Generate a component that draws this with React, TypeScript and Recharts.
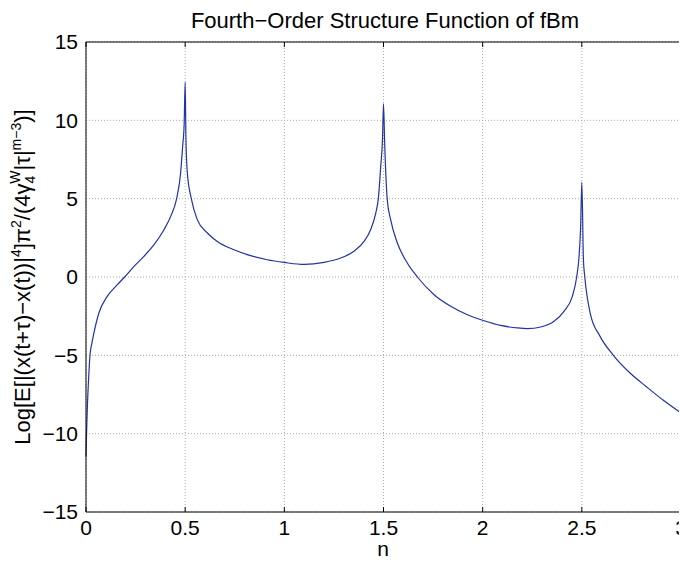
import React from 'react'
import { CartesianGrid, Line, LineChart, XAxis, YAxis } from 'recharts'

// values
const nValues = [
  0, 0.003, 0.007, 0.012, 0.02, 0.03, 0.04, 0.065, 0.107, 0.158, 0.195, 0.242, 0.292, 0.343, 0.393,
  0.427, 0.457, 0.477, 0.487, 0.495, 0.5, 0.504, 0.511, 0.531, 0.561, 0.612, 0.662, 0.746, 0.83,
  0.914, 1.0, 1.1, 1.2, 1.284, 1.351, 1.402, 1.435, 1.461, 1.474, 1.486, 1.495, 1.5, 1.506, 1.519,
  1.536, 1.57, 1.62, 1.671, 1.755, 1.839, 1.923, 2.007, 2.091, 2.175, 2.226, 2.293, 2.36, 2.41,
  2.452, 2.474, 2.486, 2.494, 2.5, 2.508, 2.515, 2.542, 2.592, 2.659, 2.743, 2.827, 2.911, 3.0,
]
const logValues = [
  -11.45, -9.9, -8.26, -6.8, -5.0, -4.2, -3.57, -2.3, -1.24, -0.49, 0, 0.68, 1.32, 2.06, 3.02,
  3.87, 5.0, 6.64, 8.3, 9.8, 12.42, 8.76, 6.64, 5.0, 3.66, 2.81, 2.27, 1.74, 1.36,
  1.1, 0.93, 0.8, 0.93, 1.21, 1.64, 2.27, 3.02, 4.08, 5.0, 7.06, 8.8, 11.06, 8.5, 4.93,
  3.66, 2.17, 0.89, 0, -1.13, -1.87, -2.41, -2.79, -3.09, -3.25, -3.29, -3.19, -2.83, -2.19,
  -1.24, 0, 1.31, 3.23, 6.05, 1.1, 0, -2.3, -3.79, -5.0, -6.13, -7.02, -7.87, -8.68,
]
const xTicks = [0, 0.5, 1, 1.5, 2, 2.5, 3]
const yTicks = [-15, -10, -5, 0, 5, 10, 15]

const data = nValues.map((n, i) => ({ n, v: logValues[i] }))

const FONT = '"Liberation Sans", Arial, Helvetica, sans-serif'
const fmt = (v: number) => String(v).replace('-', '\u2212')
const NoTick = () => <g />

function Texts() {
  const x = 22
  const y = 269
  return (
    <g>
      <text x={377} y={20} textAnchor='middle' fontFamily={FONT} fontSize={22} fill='#000'>
        Fourth{'\u2212'}Order Structure Function of fBm
      </text>
      <text x={375} y={548} textAnchor='middle' fontFamily={FONT} fontSize={21} fill='#000'>
        n
      </text>
      <text
        x={x}
        y={y}
        transform={`rotate(-90 ${x} ${y})`}
        textAnchor='middle'
        fontFamily={FONT}
        fontSize={22}
        fill='#000'
      >
        Log[E[|(x(t+τ){'\u2212'}x(t))|
        <tspan fontSize={14} dy={-9}>4</tspan>
        <tspan dy={9}>]π</tspan>
        <tspan fontSize={14} dy={-9}>2</tspan>
        <tspan dy={9}>/(4γ</tspan>
        <tspan fontSize={14} dy={5}>4</tspan>
        <tspan fontSize={14} dx={-8} dy={-15}>W</tspan>
        <tspan dy={10}>|τ|</tspan>
        <tspan fontSize={14} dy={-9}>m{'\u2212'}3</tspan>
        <tspan dy={9}>)]</tspan>
      </text>
    </g>
  )
}

export default function App() {
  return (
    <LineChart
      width={679}
      height={555}
      data={data}
      margin={{ top: 34, right: 6, left: 8, bottom: 8 }}
    >
      <CartesianGrid stroke='#aaa' strokeDasharray='1 2' />
      <XAxis
        dataKey='n'
        type='number'
        domain={[0, 3]}
        ticks={xTicks}
        height={43}
        tickSize={0}
        tickMargin={8}
        tickLine={false}
        axisLine={{ stroke: '#000' }}
        tick={{ fill: '#000', fontSize: 21, fontFamily: FONT }}
        interval={0}
      />
      <XAxis
        xAxisId='bottomTicks'
        dataKey='n'
        type='number'
        domain={[0, 3]}
        ticks={xTicks}
        mirror
        height={1}
        tickSize={5}
        tick={NoTick}
        tickLine={{ stroke: '#000' }}
        axisLine={false}
        interval={0}
      />
      <XAxis
        xAxisId='top'
        orientation='top'
        dataKey='n'
        type='number'
        domain={[0, 3]}
        ticks={xTicks}
        mirror
        height={1}
        tickSize={5}
        tick={NoTick}
        tickLine={{ stroke: '#000' }}
        axisLine={{ stroke: '#000' }}
        interval={0}
      />
      <YAxis
        type='number'
        domain={[-15, 15]}
        ticks={yTicks}
        width={70}
        tickSize={0}
        tickMargin={8}
        tickLine={false}
        axisLine={{ stroke: '#000' }}
        tickFormatter={fmt}
        tick={{ fill: '#000', fontSize: 21, fontFamily: FONT }}
        interval={0}
        label={{ content: () => <Texts /> }}
      />
      <YAxis
        yAxisId='leftTicks'
        type='number'
        domain={[-15, 15]}
        ticks={yTicks}
        mirror
        width={1}
        tickSize={5}
        tick={NoTick}
        tickLine={{ stroke: '#000' }}
        axisLine={false}
        interval={0}
      />
      <YAxis
        yAxisId='right'
        orientation='right'
        type='number'
        domain={[-15, 15]}
        ticks={yTicks}
        mirror
        width={1}
        tickSize={5}
        tick={NoTick}
        tickLine={{ stroke: '#000' }}
        axisLine={{ stroke: '#000' }}
        interval={0}
      />
      <Line
        type='monotone'
        dataKey='v'
        stroke='#2233a8'
        strokeWidth={1.2}
        dot={false}
        isAnimationActive={false}
      />
    </LineChart>
  )
}
